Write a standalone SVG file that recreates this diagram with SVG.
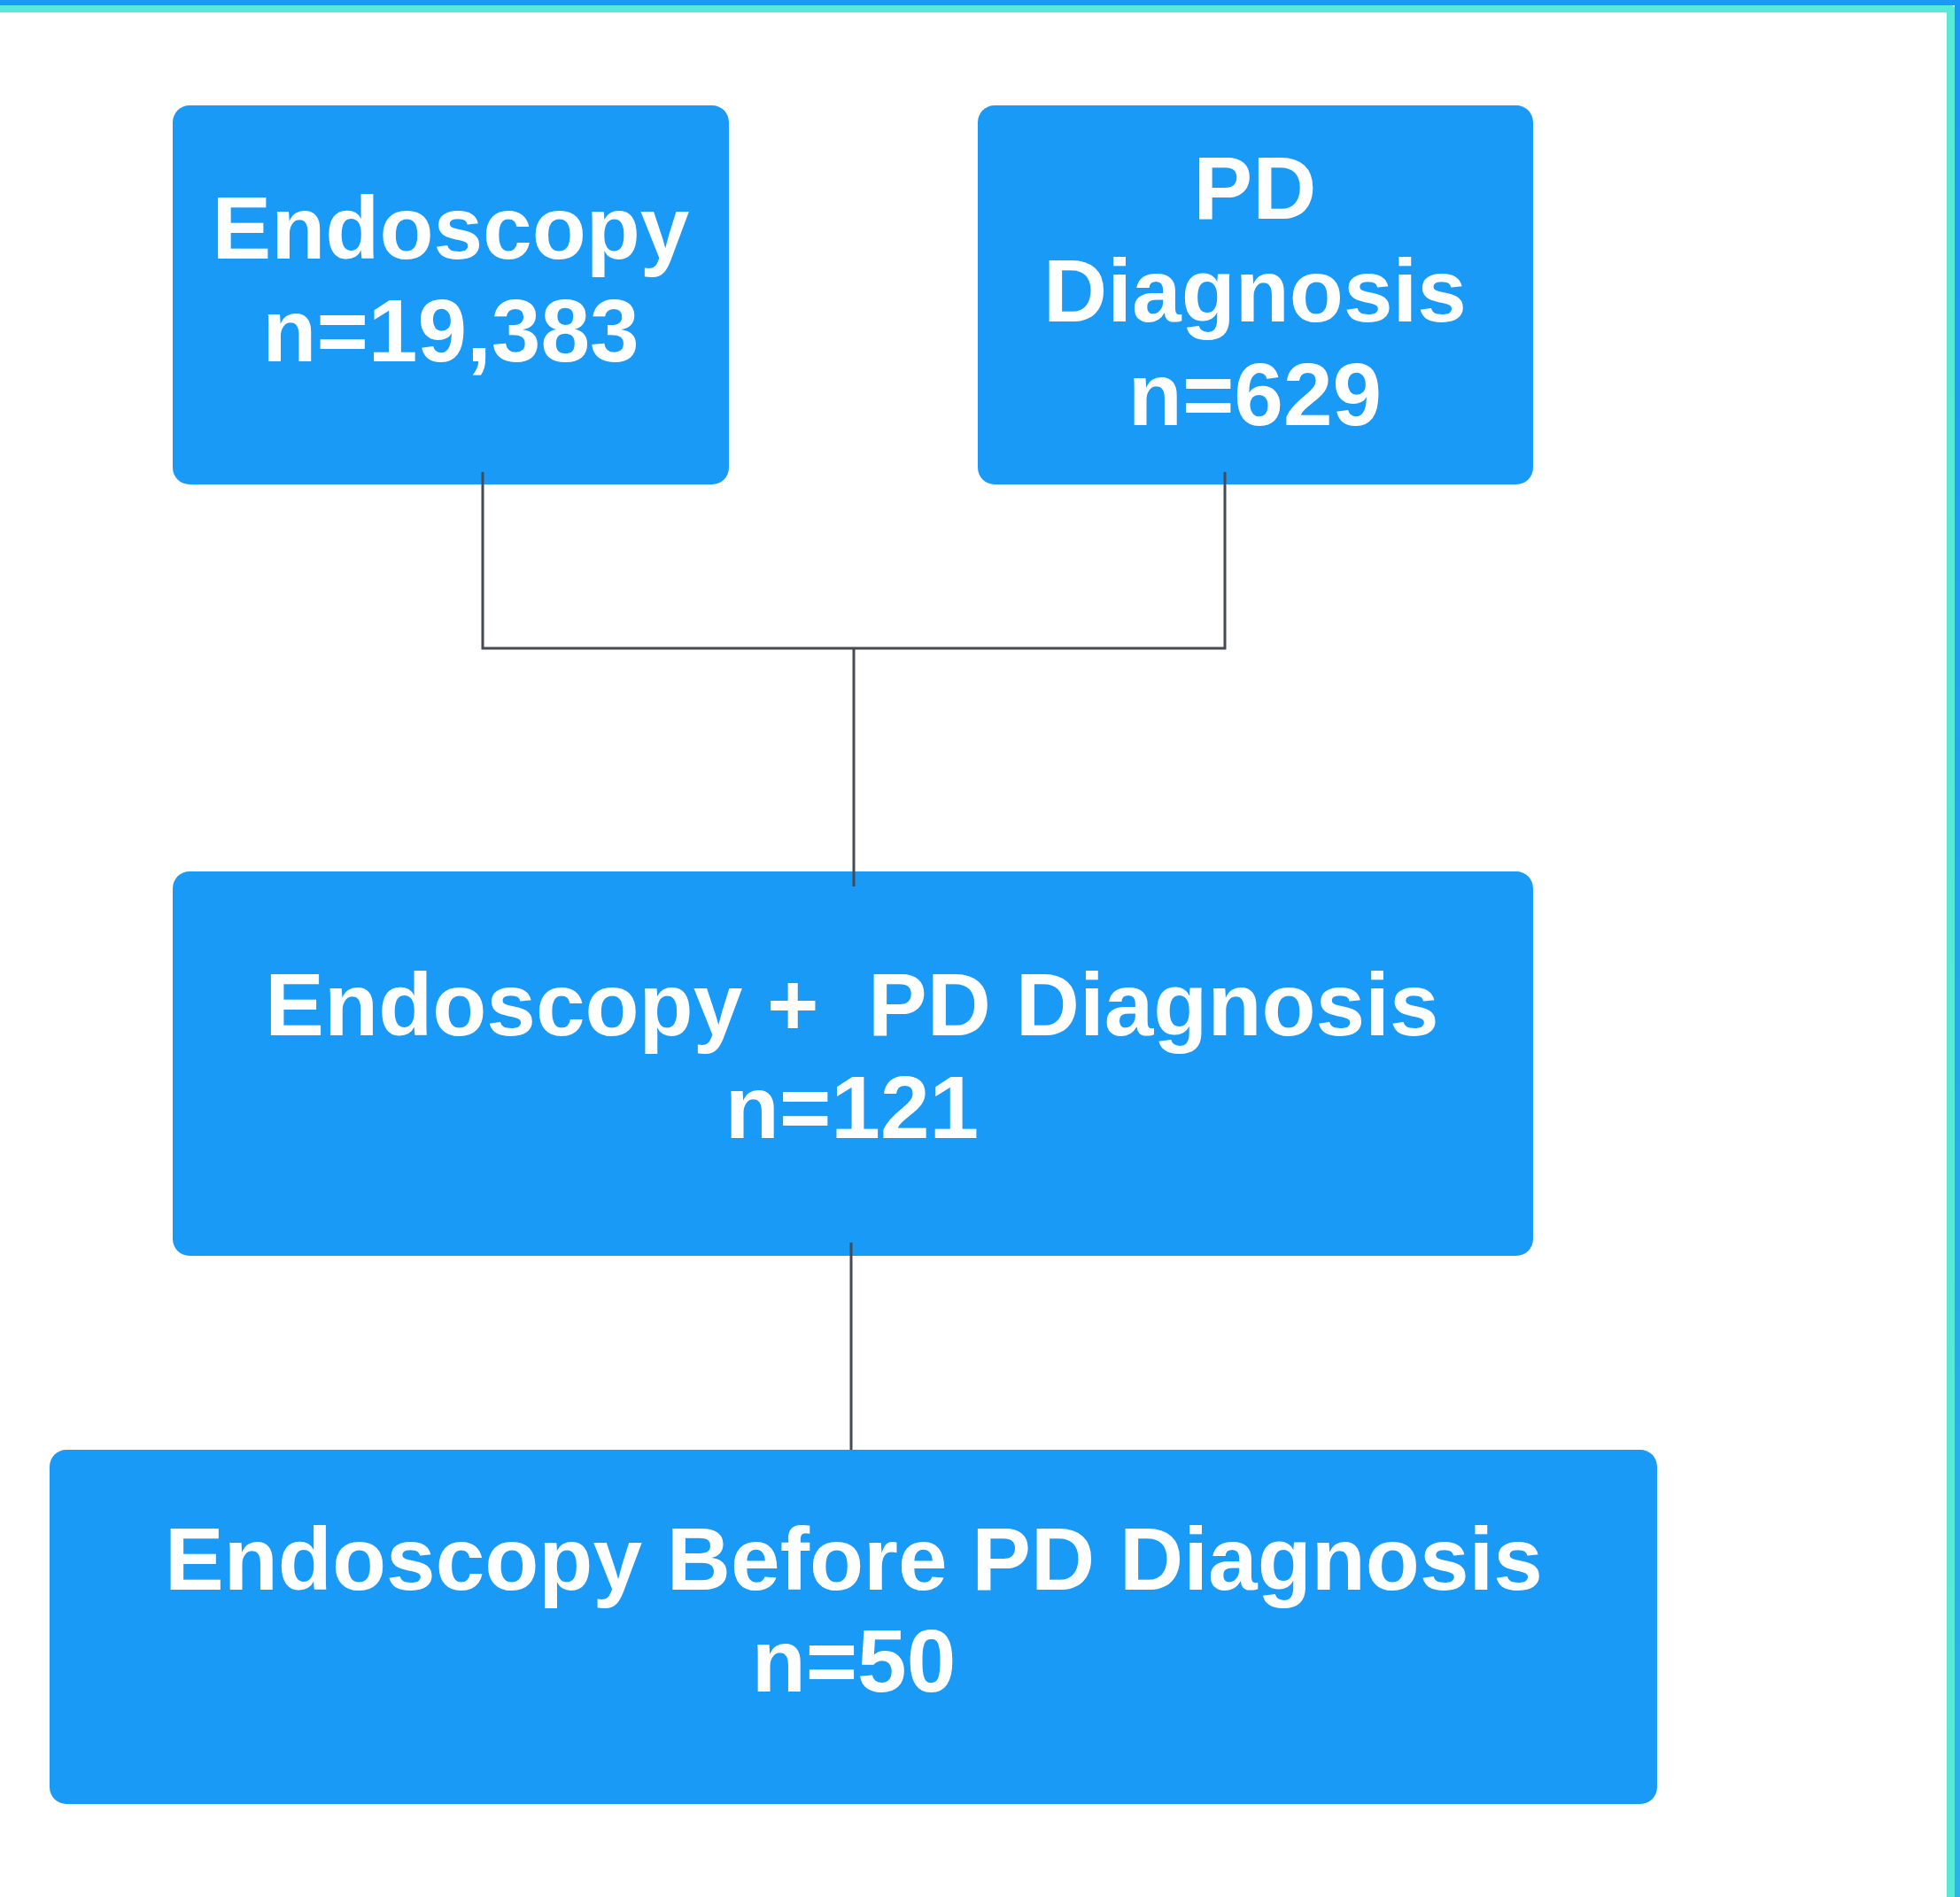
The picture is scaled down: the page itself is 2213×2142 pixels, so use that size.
<svg xmlns="http://www.w3.org/2000/svg" width="2213" height="2142" viewBox="0 0 2213 2142">
<defs>
<style>
.node rect{fill:#1a9af7}
.node text{fill:#ffffff;font-family:"Liberation Sans",Arial,sans-serif;font-weight:bold;font-size:100px;text-anchor:middle}
.conn{fill:none;stroke:#454a55;stroke-width:3}
</style>
<linearGradient id="rg" x1="0" y1="0" x2="0" y2="1">
<stop offset="0" stop-color="#1a9af7"/>
<stop offset="1" stop-color="#2bb5ec"/>
</linearGradient>
</defs>
<rect x="0" y="0" width="2213" height="2142" fill="#ffffff"/>
<g id="frame">
<rect x="0" y="0" width="2213" height="6" fill="#1a9af7"/>
<rect x="2207" y="0" width="6" height="2142" fill="url(#rg)"/>
<path d="M0 6 H2203 Q2207 6 2207 10 V2142 H2198 V14 H0 Z" fill="#58ead6"/>
</g>
<g id="node-endoscopy" class="node">
<rect x="195" y="119" width="628" height="428" rx="19"/>
<text x="509" y="292">Endoscopy</text>
<text x="509" y="408">n=19,383</text>
</g>
<g id="node-pd" class="node">
<rect x="1104" y="119" width="627" height="428" rx="19"/>
<text x="1417" y="247">PD</text>
<text x="1417" y="363">Diagnosis</text>
<text x="1417" y="480">n=629</text>
</g>
<g id="node-both" class="node">
<rect x="195" y="984" width="1536" height="434" rx="19"/>
<text x="962" y="1169" xml:space="preserve">Endoscopy +  PD Diagnosis</text>
<text x="962" y="1285">n=121</text>
</g>
<g id="node-before" class="node">
<rect x="56" y="1637" width="1815" height="400" rx="19"/>
<text x="964" y="1795">Endoscopy Before PD Diagnosis</text>
<text x="964" y="1910">n=50</text>
</g>
<g id="connectors">
<polyline class="conn" points="545,533 545,732 1383,732 1383,533"/>
<line class="conn" x1="964" y1="732" x2="964" y2="1001"/>
<line class="conn" x1="961" y1="1403" x2="961" y2="1637"/>
</g>
</svg>
